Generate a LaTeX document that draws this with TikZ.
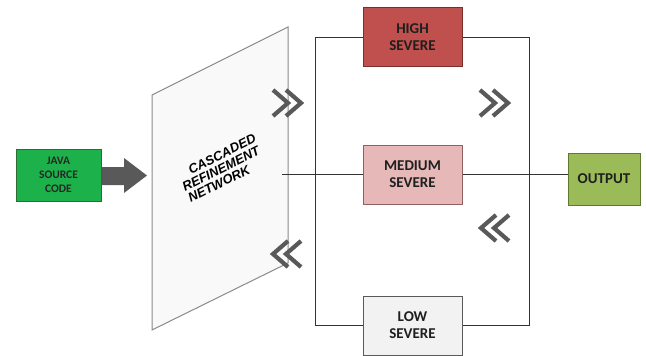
\documentclass[tikz,border=0pt]{standalone}
\usepackage{fontspec}
\setmainfont{Carlito}
\newfontfamily\crnfont{Liberation Sans}
\definecolor{javagreen}{HTML}{1DB14B}
\definecolor{javaedge}{HTML}{2E6B35}
\definecolor{highfill}{HTML}{C0504D}
\definecolor{highedge}{HTML}{7A2E2B}
\definecolor{medfill}{HTML}{E6B9B8}
\definecolor{mededge}{HTML}{8E6261}
\definecolor{lowfill}{HTML}{F2F2F2}
\definecolor{lowedge}{HTML}{5A5A5A}
\definecolor{outfill}{HTML}{9BBB59}
\definecolor{outedge}{HTML}{5E7A2E}
\definecolor{chev}{HTML}{595959}
\definecolor{panel}{HTML}{F9F9F9}
\definecolor{panedge}{HTML}{8A8A8A}
\tikzset{
  sevbox/.style={draw, line width=1pt, minimum width=99pt, minimum height=59pt, inner sep=0pt, align=center, font=\fontsize{15}{17}\selectfont\bfseries, text=black!88},
  crntext/.style={rotate=26.5, inner sep=0pt, font=\crnfont\fontsize{13}{15}\selectfont\bfseries\itshape},
  wire/.style={draw=black!80, line width=1pt},
  chevr/.style={draw=chev, line width=4.2pt, miter limit=10},
  pics/dblright/.style={code={
    \draw[chevr] (-15,-13) -- (0,0) -- (-15,13);
    \draw[chevr] (-2,-13) -- (13,0) -- (-2,13);}},
  pics/dblleft/.style={code={
    \draw[chevr] (15,-13) -- (0,0) -- (15,13);
    \draw[chevr] (2,-13) -- (-13,0) -- (2,13);}}
}
\begin{document}
\begin{tikzpicture}[x=1pt,y=-1pt]
\useasboundingbox (0,0) rectangle (646,356);
% input
\node[draw=javaedge, line width=1pt, fill=javagreen, minimum width=85pt, minimum height=52pt, inner sep=0pt, align=center, font=\fontsize{11.5}{14}\selectfont\bfseries, text=black!85] (java) at (58.5,175) {JAVA\\SOURCE\\CODE};
% big arrow
\fill[chev] (102,167) -- (124,167) -- (124,158) -- (147,175.5) -- (124,193) -- (124,185) -- (102,185) -- cycle;
% panel
\draw[draw=panedge, fill=panel, line width=1pt] (152,95) -- (288,27) -- (288,263) -- (152,330) -- cycle;
\node[crntext] (crn1) at (222,154) {CASCADED};
\node[crntext] (crn2) at (221,169) {REFINEMENT};
\node[crntext] (crn3) at (219,184) {NETWORK};
% severity boxes
\node[sevbox, fill=highfill, draw=highedge] (high) at (412.5,37) {HIGH\\SEVERE};
\node[sevbox, fill=medfill, draw=mededge] (medium) at (412.5,174.5) {MEDIUM\\SEVERE};
\node[sevbox, fill=lowfill, draw=lowedge] (low) at (412.5,325.5) {LOW\\SEVERE};
\node[draw=outedge, line width=1pt, fill=outfill, minimum width=72pt, minimum height=52pt, inner sep=0pt, font=\fontsize{15}{17}\selectfont\bfseries, text=black!88] (output) at (604,179) {OUTPUT};
% loop corners
\coordinate (tl) at (315,37);
\coordinate (tr) at (529,37);
\coordinate (bl) at (315,325.5);
\coordinate (br) at (529,325.5);
\coordinate (ms) at (282,174.5);
\draw[wire] (high.west) -- (tl) -- (bl) -- (low.west);
\draw[wire] (high.east) -- (tr) -- (br) -- (low.east);
\draw[wire] (ms) -- (medium.west);
\draw[wire] (medium.east) -- (medium.east -| output.west);
% chevrons
\pic at (288,103) {dblright};
\pic at (495,103) {dblright};
\pic at (494,228) {dblleft};
\pic at (286,254) {dblleft};
\end{tikzpicture}
\end{document}
